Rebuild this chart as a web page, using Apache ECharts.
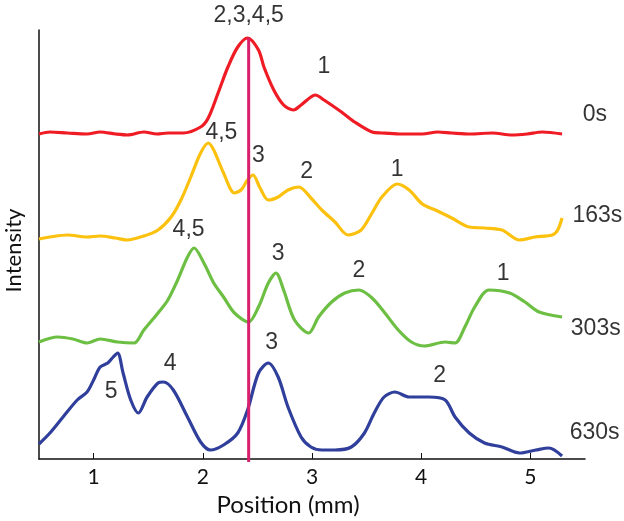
<!DOCTYPE html>
<html lang="en">
<head>
    <meta charset="UTF-8">
    <title>Intensity profiles</title>
    <script type="text/javascript" src="https://cdn.jsdelivr.net/npm/echarts@6/dist/echarts.min.js"></script>
    <style>
        html, body { margin: 0; padding: 0; background: #fff; }
        #chart { width: 624px; height: 521px; }
    </style>
</head>
<body>
<div id="chart"></div>
<script type="text/javascript">
    // position (mm), intensity (offset per trace, arbitrary units)
    var red0s = [[0.50,325],[0.60,327],[0.76,326],[0.94,325],[1.06,327],[1.20,325],[1.31,324],[1.46,327],[1.58,325],[1.68,326],[1.82,326],[1.98,332],[2.05,341],[2.14,366],[2.23,392],[2.32,412],[2.41,421],[2.51,409],[2.56,392],[2.65,369],[2.74,354],[2.83,349],[2.90,354],[2.99,362],[3.03,364],[3.11,359],[3.27,347],[3.39,337],[3.55,327],[3.64,326],[3.80,325],[4.01,325],[4.15,327],[4.28,326],[4.45,325],[4.65,326],[4.83,324],[4.97,325],[5.11,327],[5.29,325]];
    var yellow163s = [[0.50,220],[0.60,222],[0.76,224],[0.94,222],[1.06,223],[1.20,221],[1.31,219],[1.46,223],[1.59,229],[1.71,242],[1.80,259],[1.89,282],[1.98,306],[2.05,316],[2.10,309],[2.19,286],[2.29,266],[2.35,269],[2.41,279],[2.46,284],[2.52,272],[2.60,259],[2.69,262],[2.78,269],[2.88,272],[2.99,261],[3.09,249],[3.21,237],[3.33,224],[3.45,229],[3.55,246],[3.64,262],[3.78,275],[3.89,269],[4.01,255],[4.13,249],[4.28,241],[4.44,232],[4.58,231],[4.74,229],[4.90,219],[5.04,222],[5.20,224],[5.25,229],[5.29,241]];
    var green303s = [[0.50,117],[0.67,122],[0.81,120],[0.94,116],[1.06,120],[1.22,117],[1.37,116],[1.46,129],[1.59,146],[1.68,159],[1.77,179],[1.86,202],[1.92,211],[2.01,196],[2.10,176],[2.19,162],[2.29,146],[2.42,137],[2.51,152],[2.60,176],[2.67,186],[2.74,169],[2.84,139],[2.97,126],[3.06,142],[3.18,157],[3.30,166],[3.43,169],[3.55,161],[3.66,147],[3.79,129],[3.91,117],[4.03,113],[4.22,117],[4.31,116],[4.40,132],[4.49,152],[4.62,169],[4.81,166],[4.95,157],[5.08,147],[5.29,142]];
    var blue630s = [[0.50,15],[0.60,26],[0.72,42],[0.85,59],[0.94,67],[1.00,79],[1.06,92],[1.13,96],[1.18,102],[1.22,106],[1.27,86],[1.34,59],[1.41,46],[1.49,62],[1.59,76],[1.64,77],[1.73,69],[1.86,42],[1.98,17],[2.07,9],[2.19,14],[2.32,26],[2.41,49],[2.51,86],[2.60,96],[2.69,82],[2.78,52],[2.90,22],[2.99,12],[3.09,9],[3.21,9],[3.36,12],[3.48,26],[3.57,46],[3.66,62],[3.76,67],[3.89,62],[4.07,62],[4.22,59],[4.31,42],[4.44,26],[4.58,16],[4.74,12],[4.90,6],[5.05,9],[5.17,11],[5.29,3]];

    var pinkLine = [[2.42,421],[2.42,-3]];

    // peak labels: [x, y, text]
    var peakLabels = [[2.42,443,'2,3,4,5'],[3.11,392,'1'],[2.17,326,'4,5'],[2.51,303,'3'],[2.95,287,'2'],[3.78,289,'1'],[1.87,229,'4,5'],[2.69,205,'3'],[3.43,188,'2'],[4.75,185,'1'],[1.16,67,'5'],[1.70,95,'4'],[2.63,116,'3'],[4.17,83,'2']];
    // trace time labels: [x, y, text]
    var timeLabels = [[5.48,344,'0s'],[5.385,243,'163s'],[5.37,130,'303s'],[5.36,26,'630s']];
    var xTicks = [1,2,3,4,5];

    var chart = echarts.init(document.getElementById('chart'));

    function trace(data, color) {
        return {
            type: 'line',
            data: data,
            showSymbol: false,
            smooth: 0.3,
            silent: true,
            lineStyle: {color: color, width: 3.2}
        };
    }

    function labels(data, align) {
        return {
            type: 'scatter',
            data: data,
            symbolSize: 0,
            clip: false,
            silent: true,
            label: {
                show: true,
                position: 'inside',
                align: align,
                formatter: function (p) { return p.value[2]; },
                color: '#000',
                fontFamily: 'Liberation Sans',
                fontSize: 23
            }
        };
    }

    var option = {
        animation: false,
        grid: {left: 39, right: 39, top: 30, bottom: 62, containLabel: false, outerBoundsMode: 'none'},
        xAxis: {
            type: 'value',
            min: 0.5,
            max: 5.5,
            name: 'Position (mm)',
            nameLocation: 'middle',
            nameGap: 30,
            nameTextStyle: {color: '#111', fontFamily: 'Lato', fontSize: 24, padding: [0, 48, 0, 0]},
            axisLine: {lineStyle: {color: '#111', width: 1.5}},
            axisTick: {inside: true, length: 6, customValues: xTicks, lineStyle: {color: '#111'}},
            axisLabel: {customValues: xTicks, margin: 8, color: '#111', fontFamily: 'Lato', fontSize: 21},
            splitLine: {show: false}
        },
        yAxis: {
            type: 'value',
            min: 0,
            max: 429,
            name: 'Intensity',
            nameLocation: 'middle',
            nameGap: 14,
            nameTextStyle: {color: '#111', fontFamily: 'Lato', fontSize: 22, padding: [0, 12, 0, 0]},
            axisLine: {show: true, lineStyle: {color: '#111', width: 1.5}},
            axisTick: {show: false},
            axisLabel: {show: false},
            splitLine: {show: false}
        },
        series: [
            trace(red0s, '#ef1c25'),
            trace(yellow163s, '#fcc10e'),
            trace(green303s, '#6cbf43'),
            trace(blue630s, '#2f3f9b'),
            {
                type: 'line',
                data: pinkLine,
                showSymbol: false,
                clip: false,
                silent: true,
                lineStyle: {color: '#d8206e', width: 3}
            },
            labels(peakLabels, 'center'),
            labels(timeLabels, 'left')
        ]
    };
    chart.setOption(option);
</script>
</body>
</html>
